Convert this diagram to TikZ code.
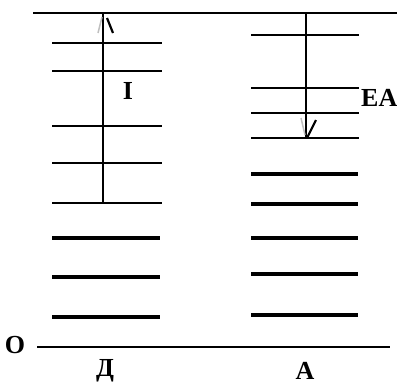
\documentclass[tikz,border=0pt]{standalone}
\usepackage{fontspec}
\setmainfont{Liberation Serif}
\begin{document}
\begin{tikzpicture}[x=1pt,y=-1pt,
  thinlevel/.style={line width=2.3pt},
  thicklevel/.style={line width=4.3pt},
  axisline/.style={line width=2pt},
  barb/.style={line width=2.2pt},
  faintbarb/.style={line width=1.5pt,black!25},
  lbl/.style={font=\fontsize{26}{30}\selectfont\bfseries,inner sep=0pt}]
\useasboundingbox (0,0) rectangle (397,384);
% top and bottom lines
\draw[axisline] (33,13) -- (397,13);
\draw[axisline] (37,347) -- (390,347);
% left column levels
\foreach \y in {43,71,126,163,203} \draw[thinlevel] (52,\y) -- (162,\y);
\foreach \y in {238,277,317} \draw[thicklevel] (52,\y) -- (160,\y);
% right column levels
\foreach \y in {35,88,113,138} \draw[thinlevel] (251,\y) -- (359,\y);
\foreach \y in {174,204,238,274,315} \draw[thicklevel] (251,\y) -- (358,\y);
% transitions
\coordinate (lbot) at (103,203);
\coordinate (ltop) at (103,13);
\coordinate (rtop) at (306,13);
\coordinate (rbot) at (306,138);
\draw[axisline] (lbot) -- (ltop);
\draw[barb] (107,18) -- (113,33);
\draw[faintbarb] (102,17) -- (98,33);
\draw[axisline] (rtop) -- (rbot);
\draw[barb] (307,138) -- (316,120);
\draw[faintbarb] (305,135) -- (301,118);
% labels
\node[lbl] (lI) at (128,91) {I};
\node[lbl,anchor=west] (lEA) at (361,98) {EA};
\node[lbl] (lO) at (15,345) {O};
\node[lbl] (lD) at (105,371) {Д};
\node[lbl] (lA) at (305,371) {A};
\end{tikzpicture}
\end{document}
